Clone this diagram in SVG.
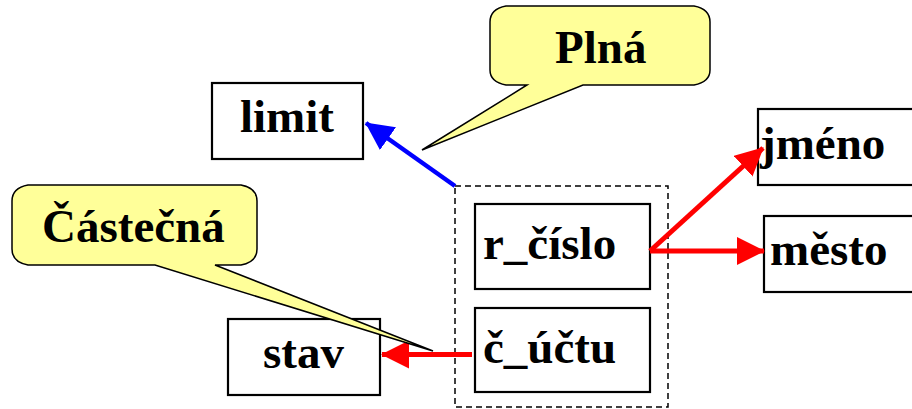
<svg xmlns="http://www.w3.org/2000/svg" width="912" height="409" viewBox="0 0 912 409">
<style>
.box{fill:#fff;stroke:#000;stroke-width:2.2}
.lbl{font-family:"Liberation Serif","Times New Roman",serif;font-weight:bold;font-size:47px;fill:#000}
.call{fill:#ffff99;stroke:#000;stroke-width:1.5;stroke-linejoin:miter}
.red{stroke:#ff0000;stroke-width:5;fill:none}
.blue{stroke:#0000ff;stroke-width:4.5;fill:none}
</style>
<defs>
<marker id="ar" markerUnits="userSpaceOnUse" viewBox="0 0 28 28" markerWidth="28" markerHeight="28" refX="27" refY="14" orient="auto"><path d="M0,0 L28,14 L0,28 Z" fill="#ff0000"/></marker>
<marker id="ab" markerUnits="userSpaceOnUse" viewBox="0 0 28 28" markerWidth="28" markerHeight="28" refX="27" refY="14" orient="auto"><path d="M0,0 L28,14 L0,28 Z" fill="#0000ff"/></marker>
</defs>
<rect width="912" height="409" fill="#fff"/>
<g id="group-key">
<rect x="455" y="186" width="213" height="221" fill="none" stroke="#000" stroke-width="1.5" stroke-dasharray="6,4"/>
</g>
<g id="limit"><rect class="box" x="212" y="83" width="151" height="76"/><text class="lbl" x="240" y="132">limit</text></g>
<g id="stav"><rect class="box" x="228" y="319" width="152" height="76"/><text class="lbl" x="263" y="368">stav</text></g>
<g id="jmeno"><rect class="box" x="758" y="109" width="170" height="76"/><text class="lbl" x="760" y="159">jméno</text></g>
<g id="mesto"><rect class="box" x="764" y="216" width="170" height="76"/><text class="lbl" x="770" y="265">město</text></g>
<g id="r_cislo"><rect class="box" x="475" y="204" width="175" height="85"/><text class="lbl" x="483" y="259">r_číslo</text></g>
<g id="c_uctu"><rect class="box" x="475" y="308" width="175" height="84"/><text class="lbl" x="483" y="363">č_účtu</text></g>
<g id="connectors">
<line class="blue" x1="455" y1="186" x2="366" y2="123" marker-end="url(#ab)"/>
<line class="red" x1="650" y1="251" x2="763" y2="148" marker-end="url(#ar)"/>
<line class="red" x1="650" y1="251" x2="764" y2="251" marker-end="url(#ar)"/>
<line class="red" x1="472" y1="354.5" x2="382" y2="354.5" marker-end="url(#ar)"/>
</g>
<g id="callout-plna">
<path class="call" d="M506,6 H694 Q710,9 710,22 V70 Q710,82 694,85 H583 L422,150 L527,85 H506 Q490,82 490,70 V22 Q490,9 506,6 Z"/>
<text class="lbl" x="555" y="63">Plná</text>
</g>
<g id="callout-castecna">
<path class="call" d="M28,185 H241 Q257,188 257,201 V249 Q257,262 241,265 H215 L433,351 L155,265 H28 Q12,262 12,249 V201 Q12,188 28,185 Z"/>
<text class="lbl" x="42" y="242">Částečná</text>
</g>
</svg>
